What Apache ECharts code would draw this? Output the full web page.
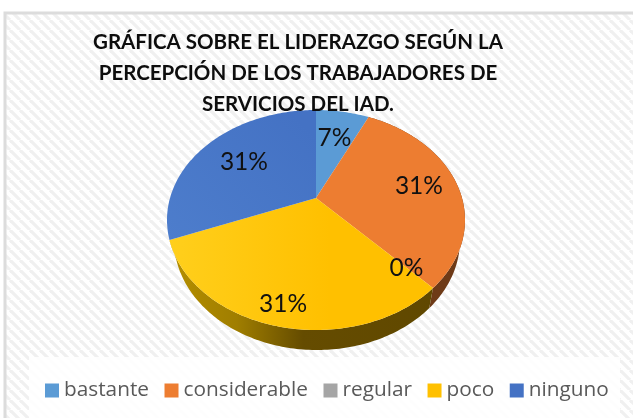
<!DOCTYPE html>
<html>
<head>
<meta charset="utf-8">
<style>html,body{margin:0;padding:0;background:#fff}#c{width:633px;height:418px}</style>
<script src="https://cdn.jsdelivr.net/npm/echarts@6/dist/echarts.min.js"></script>
</head>
<body>
<div id="c"></div>
<script>
var titleText = 'GRÁFICA SOBRE EL LIDERAZGO SEGÚN LA\nPERCEPCIÓN DE LOS TRABAJADORES DE\nSERVICIOS DEL IAD.';
var categories = ['bastante', 'considerable', 'regular', 'poco', 'ninguno'];
var values = [7, 31, 0, 31, 31];
var colors = ['#5b9bd5', '#ed7d31', '#a5a5a5', '#ffc000', '#4472c4'];
var labelRadius = [0.65, 0.73, 0.8, 0.86, 0.64];

var ellipse = { cx: 316, cy: 220, rx: 149, ry: 110, tilt: -0.2, depth: 20, lowerRx: 143, lowerShift: 1 };

var total = values.reduce(function (a, b) { return a + b; }, 0);
var starts = [];
values.reduce(function (acc, v, i) { starts[i] = acc; return acc + v; }, 0);

// Perspective projection of the pie's disc: (fraction of the turn, radius) to screen.
function project(frac, r) {
  var th = frac * 2 * Math.PI;
  var u = r * Math.sin(th), v = -r * Math.cos(th);
  var t = ellipse.tilt, d = 1 + t * v;
  return [
    ellipse.cx + ellipse.rx * u * Math.sqrt(1 - t * t) / d,
    ellipse.cy + ellipse.ry * (v + t) / d
  ];
}
function rim(a, b) {
  var n = Math.max(2, Math.ceil((b - a) * 360)), pts = [];
  for (var i = 0; i <= n; i++) pts.push(project(a + (b - a) * i / n, 1));
  return pts;
}
function lower(p) {
  return [ellipse.cx + ellipse.lowerShift + (p[0] - ellipse.cx) * ellipse.lowerRx / ellipse.rx, p[1] + ellipse.depth];
}

var hatch = document.createElement('canvas');
hatch.width = 10; hatch.height = 10;
(function () {
  var g = hatch.getContext('2d');
  g.fillStyle = '#ffffff'; g.fillRect(0, 0, 10, 10);
  g.strokeStyle = '#f0f0f0'; g.lineWidth = 3.2;
  [-10, 0, 10].forEach(function (o) {
    g.beginPath(); g.moveTo(o, 0); g.lineTo(o + 10, 10); g.stroke();
  });
})();

var wallFill = {
  1: '#6e3a17',
  3: { type: 'linear', x: 170, y: 0, x2: 436, y2: 0, global: true,
       colorStops: [{ offset: 0, color: '#b58f00' }, { offset: 0.25, color: '#a07e00' },
                    { offset: 0.5, color: '#654c00' }, { offset: 1, color: '#604800' }] }
};
var faceFill = {
  3: { type: 'linear', x: 170, y: 0, x2: 330, y2: 0, global: true,
       colorStops: [{ offset: 0, color: '#ffcf1c' }, { offset: 1, color: '#ffc000' }] },
  4: { type: 'linear', x: 170, y: 240, x2: 300, y2: 120, global: true,
       colorStops: [{ offset: 0, color: '#4d7dcc' }, { offset: 1, color: '#4472c4' }] }
};

var series = [];

// side wall of the pie
series.push({
  type: 'custom', name: 'lateral', coordinateSystem: 'none', z: 1, silent: true,
  data: categories.map(function (c, i) { return [values[i], starts[i]]; }),
  renderItem: function (params, api) {
    var i = params.dataIndex, v = api.value(0), s = api.value(1);
    if (!v || !wallFill[i]) return { type: 'group', children: [] };
    var a = s / total, top = rim(a, (s + v) / total);
    var pts = top.concat(top.slice().reverse().map(lower));
    return { type: 'polygon', shape: { points: pts }, style: { fill: wallFill[i] } };
  }
});

// top faces: one series per category so that the legend lists them
categories.forEach(function (c, i) {
  series.push({
    type: 'custom', name: c, coordinateSystem: 'none', z: 2, silent: true,
    itemStyle: { color: colors[i] },
    data: [[values[i], starts[i]]],
    renderItem: function (params, api) {
      var v = api.value(0), s = api.value(1);
      if (!v) return { type: 'group', children: [] };
      var pts = [project(0, 0)].concat(rim(s / total, (s + v) / total));
      return { type: 'polygon', shape: { points: pts }, style: { fill: faceFill[i] || colors[i] } };
    }
  });
});

// percentage labels
series.push({
  type: 'custom', name: 'etiquetas', coordinateSystem: 'none', z: 3, silent: true,
  data: categories.map(function (c, i) { return [values[i], starts[i]]; }),
  renderItem: function (params, api) {
    var i = params.dataIndex, v = api.value(0), s = api.value(1);
    var p = project((s + v / 2) / total, labelRadius[i]);
    return {
      type: 'text', x: p[0], y: p[1],
      style: {
        text: Math.round(v / total * 100) + '%', fill: '#111111',
        font: '24.5px Lato, sans-serif', align: 'center', verticalAlign: 'middle'
      }
    };
  }
});

var chart = echarts.init(document.getElementById('c'), null, { renderer: 'canvas' });
chart.setOption({
  animation: false,
  backgroundColor: '#ffffff',
  graphic: [
    { type: 'rect', z: -5, silent: true, shape: { x: 5, y: 13, width: 640, height: 420 },
      style: { fill: { image: hatch, repeat: 'repeat' }, stroke: '#dcdcdc', lineWidth: 3 } },
    { type: 'rect', z: -4, silent: true, shape: { x: 29, y: 357, width: 591, height: 61 },
      style: { fill: 'rgba(255,255,255,0.85)' } }
  ],
  title: {
    text: titleText, left: 298, top: 27, padding: 0, textAlign: 'center',
    textStyle: { fontFamily: 'Lato, sans-serif', fontWeight: 'bold', fontSize: 20.5, lineHeight: 31, color: '#0d0d0d' }
  },
  legend: {
    data: categories, left: 45, top: 380, padding: 0, icon: 'rect', itemWidth: 14, itemHeight: 14, itemGap: 15.5,
    selectedMode: false,
    textStyle: { fontFamily: '"Open Sans", sans-serif', fontSize: 20.8, color: '#595959' }
  },
  series: series
});
</script>
</body>
</html>
